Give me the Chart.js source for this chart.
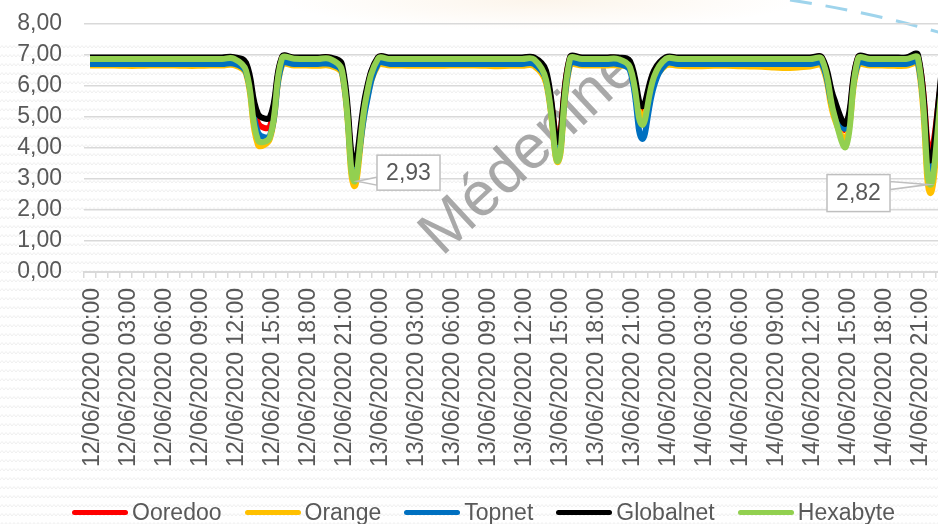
<!DOCTYPE html>
<html>
<head>
<meta charset="utf-8">
<script src="https://cdn.jsdelivr.net/npm/chart.js@4/dist/chart.umd.min.js"></script>
<style>
html, body { margin: 0; padding: 0; width: 938px; height: 524px; overflow: hidden; background: #fff; }
#wrap { position: relative; width: 960px; height: 524px; }
#bg {
  position: absolute; left: 0; top: 42px; width: 960px; height: 482px;
  background-image: url("data:image/svg+xml,%3Csvg xmlns='http://www.w3.org/2000/svg' width='8' height='9'%3E%3Cpath d='M0 6 L2 3.5 L4 6 L6 3.5 L8 6' fill='none' stroke='%23efefef' stroke-width='1'/%3E%3C/svg%3E");
}
#glow {
  position: absolute; left: 0; top: 0; width: 960px; height: 42px;
  background: radial-gradient(ellipse 260px 30px at 540px 0px, rgba(250,238,222,0.6), rgba(255,255,255,0));
}
#deco { position: absolute; left: 0; top: 0; }
canvas { position: absolute; left: 0; top: 0; }
#legend {
  position: absolute; left: 72px; top: 499px; display: flex; align-items: center;
  font-family: "Liberation Sans", Arial, sans-serif; font-size: 23px; color: #595959; white-space: nowrap;
}
#legend .item { display: flex; align-items: center; margin-right: 23px; }
#legend .swatch { width: 56px; height: 5px; border-radius: 3px; margin-right: 4px; }
</style>
</head>
<body>
<div id="wrap">
  <div id="glow"></div>
  <div id="bg"></div>
  <svg id="deco" width="960" height="60">
    <path d="M790 0 Q870 12 945 34" fill="none" stroke="#9fd4ec" stroke-width="3" stroke-dasharray="22 14"/>
  </svg>
  <canvas id="myChart" width="960" height="524"></canvas>
  <div id="legend"></div>
</div>
<script>
// カテゴリ（1時間ごと）
const days = ['12/06/2020', '13/06/2020', '14/06/2020'];
const hours = ['00', '01', '02', '03', '04', '05', '06', '07', '08', '09', '10', '11',
               '12', '13', '14', '15', '16', '17', '18', '19', '20', '21', '22', '23'];
const categories = [];
days.forEach(d => hours.forEach(h => categories.push(d + ' ' + h + ':00')));

// 系列名と色
const seriesNames = ['Ooredoo', 'Orange', 'Topnet', 'Globalnet', 'Hexabyte'];
const seriesColors = ['#ff0000', '#ffc000', '#0070c0', '#000000', '#92d050'];

// 値
const ooredoo = [
  6.90, 6.90, 6.90, 6.90, 6.90, 6.90, 6.90, 6.90, 6.90, 6.90, 6.90, 6.90,
  6.91, 6.65, 4.80, 4.70, 6.92, 6.90, 6.90, 6.90, 6.90, 6.55, 3.30, 5.70,
  6.91, 6.90, 6.90, 6.90, 6.90, 6.90, 6.90, 6.90, 6.90, 6.90, 6.90, 6.90,
  6.90, 6.90, 6.35, 4.30, 6.91, 6.90, 6.90, 6.90, 6.90, 6.70, 5.20, 6.45,
  6.91, 6.90, 6.90, 6.90, 6.90, 6.90, 6.90, 6.90, 6.90, 6.90, 6.90, 6.90,
  6.90, 6.90, 5.40, 4.60, 6.91, 6.90, 6.90, 6.90, 6.90, 6.93, 3.90, 6.30
];
const orange = [
  6.66, 6.66, 6.66, 6.65, 6.65, 6.66, 6.66, 6.66, 6.65, 6.65, 6.66, 6.66,
  6.67, 6.40, 4.10, 4.30, 6.67, 6.66, 6.66, 6.65, 6.65, 6.40, 2.78, 5.40,
  6.66, 6.66, 6.66, 6.65, 6.65, 6.65, 6.66, 6.66, 6.66, 6.65, 6.64, 6.65,
  6.65, 6.64, 6.10, 3.55, 6.66, 6.66, 6.66, 6.66, 6.66, 6.55, 5.00, 6.15,
  6.66, 6.65, 6.64, 6.64, 6.65, 6.65, 6.64, 6.63, 6.62, 6.60, 6.58, 6.60,
  6.63, 6.64, 5.00, 4.30, 6.66, 6.66, 6.66, 6.65, 6.65, 6.70, 2.55, 5.90
];
const topnet = [
  6.71, 6.71, 6.71, 6.71, 6.71, 6.71, 6.71, 6.71, 6.71, 6.71, 6.71, 6.71,
  6.72, 6.45, 4.50, 4.40, 6.72, 6.71, 6.71, 6.71, 6.71, 6.45, 3.15, 5.35,
  6.72, 6.71, 6.71, 6.71, 6.71, 6.71, 6.71, 6.71, 6.71, 6.71, 6.71, 6.71,
  6.71, 6.71, 6.20, 3.75, 6.72, 6.71, 6.71, 6.71, 6.71, 6.50, 4.30, 6.00,
  6.72, 6.71, 6.71, 6.71, 6.71, 6.71, 6.71, 6.71, 6.71, 6.71, 6.71, 6.71,
  6.71, 6.71, 5.20, 4.65, 6.72, 6.71, 6.71, 6.71, 6.71, 6.75, 3.30, 6.00
];
const globalnet = [
  6.92, 6.92, 6.92, 6.92, 6.92, 6.92, 6.92, 6.92, 6.92, 6.92, 6.92, 6.92,
  6.93, 6.75, 5.10, 5.00, 6.94, 6.92, 6.92, 6.92, 6.92, 6.70, 3.50, 5.80,
  6.93, 6.92, 6.92, 6.92, 6.92, 6.92, 6.92, 6.92, 6.92, 6.92, 6.92, 6.92,
  6.92, 6.92, 6.50, 4.20, 6.93, 6.92, 6.92, 6.92, 6.92, 6.80, 5.35, 6.50,
  6.93, 6.92, 6.92, 6.92, 6.92, 6.92, 6.92, 6.92, 6.92, 6.92, 6.92, 6.92,
  6.92, 6.92, 5.60, 4.80, 6.93, 6.92, 6.92, 6.92, 6.92, 7.00, 3.60, 6.55
];
const hexabyte = [
  6.87, 6.87, 6.87, 6.87, 6.87, 6.87, 6.87, 6.87, 6.87, 6.87, 6.87, 6.87,
  6.88, 6.50, 4.25, 4.35, 6.90, 6.88, 6.87, 6.87, 6.87, 6.50, 2.93, 5.60,
  6.88, 6.87, 6.87, 6.87, 6.87, 6.87, 6.87, 6.87, 6.87, 6.87, 6.87, 6.87,
  6.87, 6.86, 6.20, 3.58, 6.88, 6.87, 6.87, 6.87, 6.87, 6.60, 4.75, 6.30,
  6.88, 6.87, 6.87, 6.87, 6.87, 6.87, 6.87, 6.87, 6.87, 6.87, 6.87, 6.87,
  6.87, 6.86, 5.10, 4.05, 6.88, 6.87, 6.87, 6.87, 6.87, 6.90, 2.82, 6.00
];
const seriesValues = [ooredoo, orange, topnet, globalnet, hexabyte];

// Y軸の目盛り
const yMin = 0;
const yMax = 8;
const yStep = 1;

// ラベルを付ける点（Hexabyte）
const labelledSeries = 4;
const labelledPoints = [22, 70];

const fmt = v => v.toFixed(2).replace('.', ',');

// 透かし文字
const watermarkPlugin = {
  id: 'watermark',
  beforeDatasetsDraw(chart) {
    const ctx = chart.ctx;
    ctx.save();
    ctx.translate(530, 152);
    ctx.rotate(-43 * Math.PI / 180);
    ctx.font = '62px "Liberation Sans", Arial, sans-serif';
    ctx.fillStyle = 'rgba(140,140,140,0.75)';
    ctx.textAlign = 'center';
    ctx.textBaseline = 'middle';
    ctx.fillText('Médenine', 0, 0);
    ctx.restore();
  }
};

// データラベル（吹き出し）
const calloutPlugin = {
  id: 'callout',
  afterDatasetsDraw(chart, args, opts) {
    const ctx = chart.ctx;
    labelledPoints.forEach((idx, k) => {
      const pos = opts.boxes[k];
      const px = chart.scales.x.getPixelForValue(idx);
      const py = chart.scales.y.getPixelForValue(seriesValues[labelledSeries][idx]);
      const bx = px + pos.dx, by = py + pos.dy;
      const edgeX = pos.dx > 0 ? bx : bx + pos.w;
      const tipX = pos.dx > 0 ? px + 3 : px - 2;
      ctx.save();
      // 引き出し線
      ctx.beginPath();
      ctx.moveTo(tipX, py);
      ctx.lineTo(edgeX, py + pos.ly - 4);
      ctx.lineTo(edgeX, py + pos.ly + 4);
      ctx.closePath();
      ctx.fillStyle = '#ffffff';
      ctx.fill();
      ctx.strokeStyle = '#bfbfbf';
      ctx.lineWidth = 1.5;
      ctx.stroke();
      // 箱
      ctx.fillRect(bx, by, pos.w, pos.h);
      ctx.strokeRect(bx, by, pos.w, pos.h);
      ctx.fillStyle = '#595959';
      ctx.font = '23px "Liberation Sans", Arial, sans-serif';
      ctx.textAlign = 'center';
      ctx.textBaseline = 'middle';
      ctx.fillText(fmt(seriesValues[labelledSeries][idx]), bx + pos.w / 2, by + pos.h / 2 + 1);
      ctx.restore();
    });
  }
};

Chart.defaults.font.family = '"Liberation Sans", Arial, sans-serif';
Chart.defaults.font.size = 23;
Chart.defaults.color = '#595959';

const data = {
  labels: categories,
  datasets: seriesNames.map((name, i) => ({
    label: name,
    data: seriesValues[i],
    borderColor: seriesColors[i],
    backgroundColor: seriesColors[i],
    borderWidth: 6,
    pointRadius: 0,
    tension: 0.4,
    fill: false,
    order: seriesNames.length - i
  }))
};

const config = {
  type: 'line',
  data: data,
  options: {
    responsive: false,
    animation: false,
    layout: { padding: { top: 24, right: 12, left: 0, bottom: 0 } },
    plugins: {
      legend: { display: false },
      tooltip: { enabled: false },
      callout: {
        boxes: [
          { dx: 23, dy: -26, w: 63, h: 35, ly: 0 },
          { dx: -103, dy: -10, w: 63, h: 37, ly: 1 }
        ]
      }
    },
    scales: {
      x: {
        type: 'category',
        offset: true,
        grid: { display: true, drawOnChartArea: false, drawTicks: true, tickLength: 6, offset: true, color: '#d9d9d9', lineWidth: 1.5 },
        border: { display: true, color: '#d9d9d9', width: 2 },
        ticks: {
          autoSkip: false,
          minRotation: 90,
          maxRotation: 90,
          padding: 10,
          labelOffset: 3,
          callback: function (v, i) { return i % 3 === 0 ? categories[i] : ''; }
        },
        afterFit: axis => { axis.height = 252; axis.paddingLeft = 0; axis.paddingRight = 0; }
      },
      y: {
        min: yMin,
        max: yMax,
        grid: { color: '#d9d9d9', lineWidth: 1.5, drawTicks: false },
        border: { display: false },
        ticks: { stepSize: yStep, autoSkip: false, padding: 22, callback: v => fmt(v) },
        afterFit: axis => { axis.width = 84; axis.paddingTop = 0; axis.paddingBottom = 0; }
      }
    }
  },
  plugins: [watermarkPlugin, calloutPlugin]
};

const myChart = new Chart(document.getElementById('myChart'), config);

// 凡例
const legend = document.getElementById('legend');
seriesNames.forEach((name, i) => {
  const item = document.createElement('div');
  item.className = 'item';
  item.innerHTML = '<span class="swatch" style="background:' + seriesColors[i] + '"></span><span>' + name + '</span>';
  legend.appendChild(item);
});
</script>
</body>
</html>
